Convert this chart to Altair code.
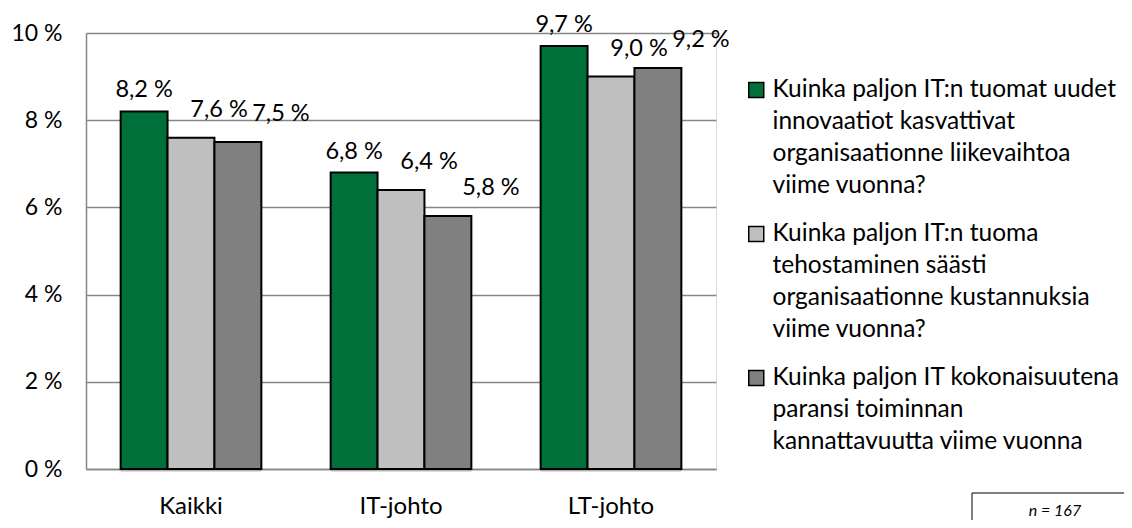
import altair as alt
import pandas as pd

categories = ["Kaikki", "IT-johto", "LT-johto"]
legend_lines = [
    ["Kuinka paljon IT:n tuomat uudet", "innovaatiot kasvattivat", "organisaationne liikevaihtoa", "viime vuonna?"],
    ["Kuinka paljon IT:n tuoma", "tehostaminen säästi", "organisaationne kustannuksia", "viime vuonna?"],
    ["Kuinka paljon IT kokonaisuutena", "paransi toiminnan", "kannattavuutta viime vuonna"],
]
series = ["|".join(l) for l in legend_lines]
innovaatiot = [8.2, 6.8, 9.7]
tehostaminen = [7.6, 6.4, 9.0]
kokonaisuus = [7.5, 5.8, 9.2]
colors = ["#00703A", "#BFBFBF", "#808080"]
y_ticks = [0, 2, 4, 6, 8, 10]
note = "n = 167"

rows = []
for si, vals in enumerate([innovaatiot, tehostaminen, kokonaisuus]):
    for c, v in zip(categories, vals):
        rows.append({"cat": c, "series": series[si], "s": si, "value": v,
                     "label": f"{v:.1f}".replace(".", ",") + " %"})
df = pd.DataFrame(rows)

FONT = "Lato"
x_enc = alt.X("cat:N", sort=categories, title=None,
              scale=alt.Scale(paddingInner=0.33, paddingOuter=0.165),
              axis=alt.Axis(labelAngle=0, labelFontSize=24, labelColor="#000", labelFont=FONT,
                            ticks=False, domainColor="#868686", domainWidth=1.5, labelPadding=25))
xo = alt.XOffset("series:N", sort=series, scale=alt.Scale(paddingInner=0, paddingOuter=0))
y_enc = alt.Y("value:Q", title=None, scale=alt.Scale(domain=[0, 10], nice=False),
              axis=alt.Axis(values=y_ticks, labelExpr="datum.value + ' %'", labelFontSize=23,
                            labelColor="#000", labelFont=FONT, ticks=False, labelPadding=24,
                            domainColor="#868686", domainWidth=1.5, gridColor="#868686",
                            gridWidth=1.5, grid=True))

base = alt.Chart(df)

shadow = base.mark_bar(color="#000", opacity=0.13, xOffset=4, yOffset=3).encode(
    x=x_enc, xOffset=xo, y=y_enc)

bars = base.mark_bar(stroke="#000", strokeWidth=2).encode(
    x=x_enc, xOffset=xo, y=y_enc,
    color=alt.Color("series:N", sort=series,
                    scale=alt.Scale(domain=series, range=colors),
                    legend=alt.Legend(title=None, orient="none", legendX=658, legendY=33,
                                      symbolType="M-1,0.55H1V2.55H-1Z", symbolSize=225,
                                      symbolStrokeColor="#000", symbolStrokeWidth=1.5,
                                      labelExpr="split(datum.label, '|')",
                                      labelFontSize=24.5, labelFont=FONT, labelColor="#000",
                                      labelLimit=0, rowPadding=12, labelOffset=4,
                                      labelBaseline="top")))

dxs = [0, 28, 43]
dys = [-21, -28, -28]
labels = []
for si in range(3):
    labels.append(base.transform_filter(alt.datum.s == si).mark_text(
        fontSize=23.5, font=FONT, color="#000", dy=dys[si], dx=dxs[si]).encode(
        x=x_enc, xOffset=xo, y=y_enc, text="label:N"))

box_df = pd.DataFrame({"t": [note]})
box = alt.Chart(box_df).mark_rect(fill="white", stroke="#000", strokeWidth=1).encode(
    x=alt.value(886), x2=alt.value(1041), y=alt.value(460), y2=alt.value(500))
box_text = alt.Chart(box_df).mark_text(fontSize=16, font=FONT, fontStyle="italic",
                                       color="#000").encode(
    x=alt.value(969), y=alt.value(478), text="t:N")

chart = alt.layer(shadow, bars, *labels, box, box_text).properties(
    width=630, height=436,
    autosize=alt.AutoSizeParams(type="none"),
    padding={"left": 78, "top": 25, "right": 408, "bottom": 51},
).configure_view(stroke=None).configure(
    background="white",
    style={"guide-label": {"lineHeight": 32}},
)

chart.save("out.html", embed_options={"renderer": "svg", "actions": False})
